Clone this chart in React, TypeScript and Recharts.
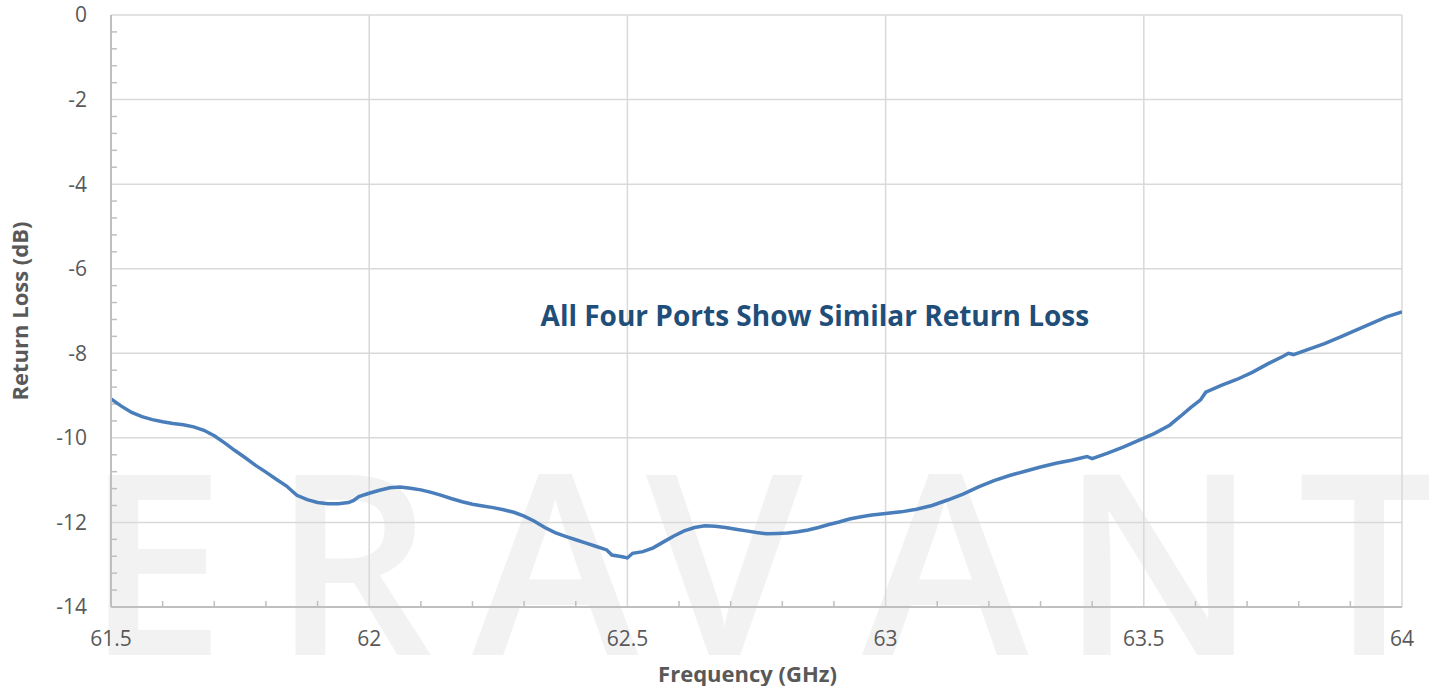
import {
  CartesianGrid,
  Label,
  Line,
  LineChart,
  ReferenceDot,
  ReferenceLine,
  XAxis,
  YAxis,
} from 'recharts'

// frequency (GHz) and return loss (dB)
const FREQ = [
  61.5, 61.52, 61.54, 61.56, 61.58, 61.6, 61.62, 61.64, 61.66, 61.68, 61.7, 61.72, 61.74, 61.76,
  61.78, 61.8, 61.82, 61.84, 61.85, 61.86, 61.88, 61.9, 61.92, 61.94, 61.96, 61.97, 61.98, 62.0,
  62.02, 62.04, 62.06, 62.08, 62.1, 62.12, 62.14, 62.16, 62.18, 62.2, 62.22, 62.24, 62.26, 62.28,
  62.3, 62.32, 62.34, 62.36, 62.38, 62.4, 62.42, 62.44, 62.46, 62.47, 62.49, 62.5, 62.51, 62.53,
  62.55, 62.57, 62.59, 62.61, 62.63, 62.65, 62.67, 62.69, 62.71, 62.73, 62.75, 62.77, 62.79,
  62.81, 62.83, 62.85, 62.87, 62.89, 62.91, 62.93, 62.95, 62.97, 63.0, 63.03, 63.06, 63.09,
  63.12, 63.15, 63.18, 63.21, 63.24, 63.27, 63.3, 63.33, 63.36, 63.39, 63.4, 63.43, 63.46,
  63.49, 63.52, 63.55, 63.57, 63.59, 63.61, 63.62, 63.65, 63.68, 63.71, 63.74, 63.77, 63.78,
  63.79, 63.82, 63.85, 63.88, 63.91, 63.94, 63.97, 64.0,
]
const RL = [
  -9.08, -9.25, -9.4, -9.5, -9.57, -9.62, -9.66, -9.69, -9.74, -9.82, -9.95, -10.12, -10.3,
  -10.47, -10.65, -10.81, -10.98, -11.14, -11.25, -11.36, -11.46, -11.53, -11.56, -11.56, -11.53,
  -11.48, -11.39, -11.31, -11.24, -11.18, -11.16, -11.19, -11.23, -11.29, -11.36, -11.44, -11.51,
  -11.57, -11.61, -11.65, -11.7, -11.76, -11.85, -11.97, -12.12, -12.24, -12.33, -12.41, -12.49,
  -12.57, -12.65, -12.77, -12.81, -12.84, -12.73, -12.69, -12.6, -12.46, -12.32, -12.2, -12.12,
  -12.08, -12.09, -12.12, -12.16, -12.2, -12.24, -12.27, -12.26, -12.25, -12.22, -12.18, -12.12,
  -12.05, -11.99, -11.92, -11.87, -11.83, -11.79, -11.75, -11.69, -11.6, -11.47, -11.33, -11.16,
  -11.01, -10.89, -10.79, -10.69, -10.6, -10.53, -10.44, -10.49, -10.36, -10.22, -10.06, -9.9,
  -9.7, -9.5, -9.29, -9.1, -8.92, -8.76, -8.62, -8.45, -8.25, -8.07, -8.0, -8.03, -7.9, -7.77,
  -7.62, -7.46, -7.3, -7.14, -7.02,
]

const X_TICKS = [61.5, 62, 62.5, 63, 63.5, 64]
const X_MINOR = [
  61.6, 61.7, 61.8, 61.9, 62.1, 62.2, 62.3, 62.4, 62.6, 62.7, 62.8, 62.9,
  63.1, 63.2, 63.3, 63.4, 63.6, 63.7, 63.8, 63.9,
]
const Y_TICKS = [-14, -12, -10, -8, -6, -4, -2, 0]
const Y_MINOR = [
  -13.6, -13.2, -12.8, -12.4, -11.6, -11.2, -10.8, -10.4, -9.6, -9.2, -8.8, -8.4,
  -7.6, -7.2, -6.8, -6.4, -5.6, -5.2, -4.8, -4.4, -3.6, -3.2, -2.8, -2.4, -1.6,
  -1.2, -0.8, -0.4,
]

const NOTE = 'All Four Ports Show Similar Return Loss'
const WATERMARK = ['E', 'R', 'A', 'V', 'A', 'N', 'T']

const FONT = '"Open Sans", sans-serif'
const TEXT_GRAY = '#595959'
const GRID = '#d9d9d9'
const AXIS = '#bfbfbf'
const LINE_BLUE = '#4a7ebb'

const X_MIN = 61.5
const Y_MIN = -14
// minor tick length (about 6px) in data units
const TICK_DX = 0.0116
const TICK_DY = 0.142

const data = FREQ.map((f, i) => ({ freq: f, rl: RL[i] }))

// logo letters sitting behind the plot
const markX = [85, 272, 472, 646, 862, 1060, 1298]

export default function App() {
  return (
    <div style={{ position: 'absolute', left: 0, top: 0, width: 1429, height: 686, background: '#fff', overflow: 'hidden' }}>
      <svg width={1429} height={686} style={{ position: 'absolute', left: 0, top: 0 }}>
        {WATERMARK.map((ch, i) => (
          <text
            key={i}
            x={markX[i]}
            y={655}
            fontFamily={FONT}
            fontSize={252}
            fontWeight={600}
            fill="#f2f2f2"
          >
            {ch}
          </text>
        ))}
      </svg>
      <div style={{ position: 'absolute', left: 0, top: 0 }}>
        <LineChart width={1429} height={686} data={data} margin={{ top: 15, right: 27, left: 0, bottom: 0 }}>
          <CartesianGrid stroke={GRID} strokeWidth={1.5} />
          <XAxis
            dataKey="freq"
            type="number"
            domain={[61.5, 64]}
            ticks={X_TICKS}
            interval={0}
            height={79}
            tickLine={false}
            tickSize={0}
            tickMargin={24}
            axisLine={{ stroke: AXIS, strokeWidth: 2 }}
            tick={{ fill: TEXT_GRAY, fontSize: 21, fontFamily: FONT }}
            allowDataOverflow
          >
            <Label
              value="Frequency (GHz)"
              position="insideBottom"
              offset={4}
              dx={-9}
              fill={TEXT_GRAY}
              fontSize={22}
              fontWeight={700}
              fontFamily={FONT}
            />
          </XAxis>
          <YAxis
            type="number"
            domain={[-14, 0]}
            ticks={Y_TICKS}
            interval={0}
            width={111}
            tickLine={false}
            tickSize={0}
            tickMargin={24}
            axisLine={{ stroke: AXIS, strokeWidth: 2 }}
            tick={{ fill: TEXT_GRAY, fontSize: 21, fontFamily: FONT }}
            allowDataOverflow
          >
            <Label
              value="Return Loss (dB)"
              position="center"
              angle={-90}
              dx={-35}
              fill={TEXT_GRAY}
              fontSize={22}
              fontWeight={700}
              fontFamily={FONT}
            />
          </YAxis>
          {X_MINOR.map((v) => (
            <ReferenceLine
              key={`xm-${v}`}
              segment={[
                { x: v, y: Y_MIN },
                { x: v, y: Y_MIN + TICK_DY },
              ]}
              stroke={AXIS}
              strokeWidth={1.5}
              ifOverflow="visible"
            />
          ))}
          {Y_MINOR.map((v) => (
            <ReferenceLine
              key={`ym-${v}`}
              segment={[
                { x: X_MIN, y: v },
                { x: X_MIN + TICK_DX, y: v },
              ]}
              stroke={AXIS}
              strokeWidth={1.5}
              ifOverflow="visible"
            />
          ))}
          <ReferenceDot
            x={62.863}
            y={-7.12}
            r={0}
            stroke="none"
            label={{
              value: NOTE,
              position: 'center',
              fill: '#1f4e79',
              fontSize: 28,
              fontWeight: 700,
              fontFamily: FONT,
            }}
          />
          <Line
            dataKey="rl"
            type="linear"
            stroke={LINE_BLUE}
            strokeWidth={3.5}
            dot={false}
            isAnimationActive={false}
          />
        </LineChart>
      </div>
    </div>
  )
}
